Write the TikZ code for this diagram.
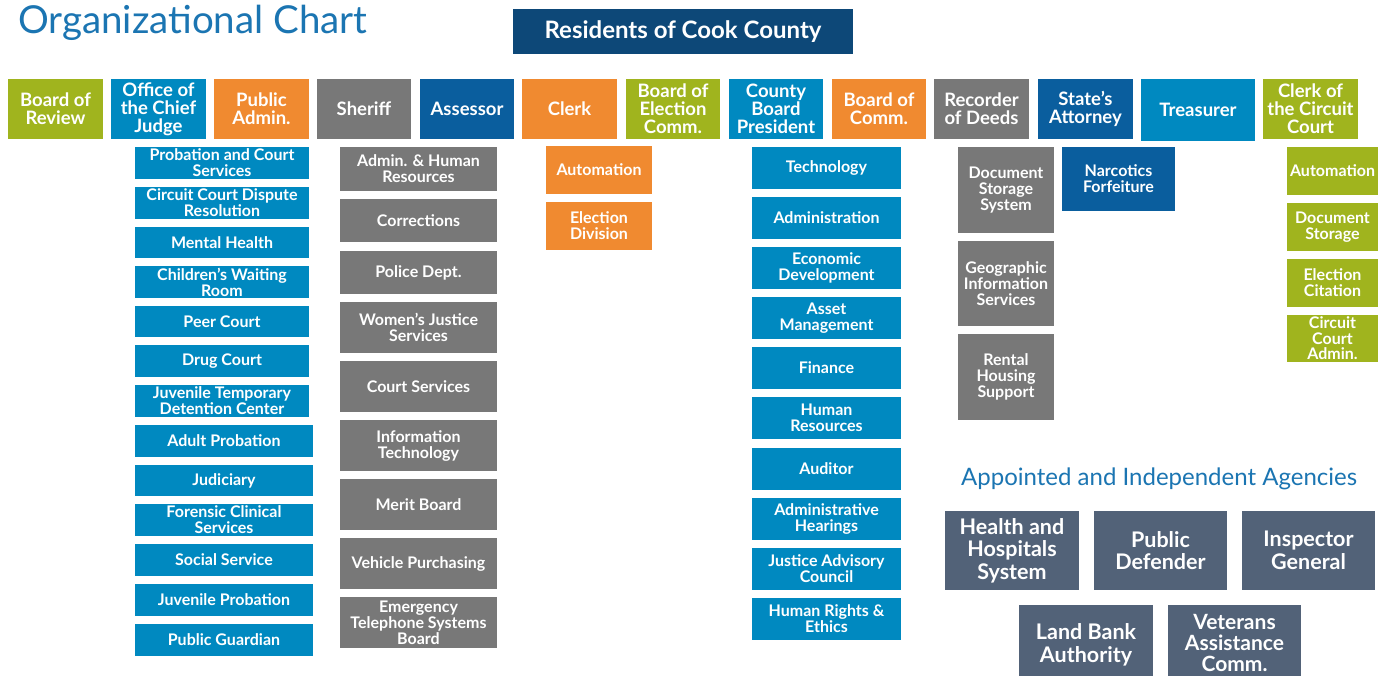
\documentclass[tikz,border=0pt]{standalone}
\usepackage{fontspec}
\setmainfont{Lato}
\usetikzlibrary{positioning}
\pgfdeclarelayer{bg}
\pgfsetlayers{bg,main}
\definecolor{cNavy}{HTML}{0D4878}
\definecolor{cOlive}{HTML}{A0B41E}
\definecolor{cBlue}{HTML}{0089C0}
\definecolor{cOrange}{HTML}{F08A30}
\definecolor{cGray}{HTML}{787878}
\definecolor{cDBlue}{HTML}{0A5E9E}
\definecolor{cSlate}{HTML}{526278}
\definecolor{cLine}{HTML}{78AAC8}
\definecolor{cTitle}{HTML}{1B75B2}
\tikzset{
  conn/.style={draw=cLine, line width=1.2pt},
  bx/.style={rectangle, inner sep=0pt, outer sep=0pt, text=white, align=center},
  lone/.style={bx, font=\bfseries\fontsize{18.5}{18}\selectfont},
  ltwo/.style={bx, font=\bfseries\fontsize{16}{16}\selectfont},
  agency/.style={bx, fill=cSlate, font=\bfseries\fontsize{21.5}{22.5}\selectfont},
  headtext/.style={inner sep=0pt, text=cTitle, anchor=base west},
}
\newcommand{\orgbox}[7]{\node[#6, minimum width=#4pt-#2pt, minimum height=#5pt-#3pt] (#1) at ({(#2+#4)/2},{(#3+#5)/2}) {#7};}
\begin{document}
\begin{tikzpicture}[x=1pt, y=-1pt]
\clip (0,0) rectangle (1384,676);
\fill[white] (0,0) rectangle (1384,676);

% titles
\node[headtext, font=\fontsize{38.5}{41}\selectfont] (title) at (18,34) {Organizational Chart};
\node[headtext, font=\fontsize{24}{26}\selectfont] (agtitle) at (961,485) {Appointed and Independent Agencies};

% top
\orgbox{res}{513}{9}{853}{54}{bx, fill=cNavy, font=\bfseries\fontsize{24}{26}\selectfont}{Residents of Cook County}

% level 1
\orgbox{bor}{8}{79}{103}{139}{lone, fill=cOlive}{Board of\\Review}
\orgbox{ocj}{111}{79}{206}{139}{lone, fill=cBlue}{Office of\\the Chief\\Judge}
\orgbox{pa}{214}{79}{309}{139}{lone, fill=cOrange}{Public\\Admin.}
\orgbox{sh}{317}{79}{411}{139}{lone, fill=cGray}{Sheriff}
\orgbox{as}{420}{79}{514}{139}{lone, fill=cDBlue}{Assessor}
\orgbox{cl}{522}{79}{617}{139}{lone, fill=cOrange}{Clerk}
\orgbox{bec}{626}{79}{720}{139}{lone, fill=cOlive}{Board of\\Election\\Comm.}
\orgbox{cbp}{729}{79}{823}{139}{lone, fill=cBlue}{County\\Board\\President}
\orgbox{boc}{832}{79}{926}{139}{lone, fill=cOrange}{Board of\\Comm.}
\orgbox{rd}{934}{79}{1029}{139}{lone, fill=cGray}{Recorder\\of Deeds}
\orgbox{sa}{1038}{79}{1133}{139}{lone, fill=cDBlue}{State’s\\Attorney}
\orgbox{tr}{1141}{79}{1255}{141}{lone, fill=cBlue}{Treasurer}
\orgbox{ccc}{1263}{79}{1358}{139}{lone, fill=cOlive}{Clerk of\\the Circuit\\Court}

% Office of the Chief Judge
\orgbox{j1}{135}{147}{309}{179}{ltwo, fill=cBlue}{Probation and Court\\Services}
\orgbox{j2}{135}{187}{309}{219}{ltwo, fill=cBlue}{Circuit Court Dispute\\Resolution}
\orgbox{j3}{135}{227}{309}{258}{ltwo, fill=cBlue}{Mental Health}
\orgbox{j4}{135}{266}{309}{298}{ltwo, fill=cBlue}{Children’s Waiting\\Room}
\orgbox{j5}{135}{306}{309}{337}{ltwo, fill=cBlue}{Peer Court}
\orgbox{j6}{135}{345}{309}{377}{ltwo, fill=cBlue}{Drug Court}
\orgbox{j7}{135}{385}{309}{417}{ltwo, fill=cBlue}{Juvenile Temporary\\Detention Center}
\orgbox{j8}{135}{425}{313}{457}{ltwo, fill=cBlue}{Adult Probation}
\orgbox{j9}{135}{465}{313}{496}{ltwo, fill=cBlue}{Judiciary}
\orgbox{j10}{135}{504}{313}{536}{ltwo, fill=cBlue}{Forensic Clinical\\Services}
\orgbox{j11}{135}{544}{313}{576}{ltwo, fill=cBlue}{Social Service}
\orgbox{j12}{135}{584}{313}{616}{ltwo, fill=cBlue}{Juvenile Probation}
\orgbox{j13}{135}{624}{313}{656}{ltwo, fill=cBlue}{Public Guardian}

% Sheriff
\orgbox{s1}{340}{147}{497}{191}{ltwo, fill=cGray}{Admin. \& Human\\Resources}
\orgbox{s2}{340}{199}{497}{242}{ltwo, fill=cGray}{Corrections}
\orgbox{s3}{340}{251}{497}{294}{ltwo, fill=cGray}{Police Dept.}
\orgbox{s4}{340}{302}{497}{353}{ltwo, fill=cGray}{Women’s Justice\\Services}
\orgbox{s5}{340}{361}{497}{412}{ltwo, fill=cGray}{Court Services}
\orgbox{s6}{340}{420}{497}{471}{ltwo, fill=cGray}{Information\\Technology}
\orgbox{s7}{340}{479}{497}{530}{ltwo, fill=cGray}{Merit Board}
\orgbox{s8}{340}{538}{497}{589}{ltwo, fill=cGray}{Vehicle Purchasing}
\orgbox{s9}{340}{597}{497}{648}{ltwo, fill=cGray}{Emergency\\Telephone Systems\\Board}

% Clerk
\orgbox{c1}{546}{146}{652}{194}{ltwo, fill=cOrange}{Automation}
\orgbox{c2}{546}{202}{652}{250}{ltwo, fill=cOrange}{Election\\Division}

% County Board President
\orgbox{p1}{752}{147}{901}{189}{ltwo, fill=cBlue}{Technology}
\orgbox{p2}{752}{197}{901}{239}{ltwo, fill=cBlue}{Administration}
\orgbox{p3}{752}{247}{901}{289}{ltwo, fill=cBlue}{Economic\\Development}
\orgbox{p4}{752}{297}{901}{339}{ltwo, fill=cBlue}{Asset\\Management}
\orgbox{p5}{752}{347}{901}{389}{ltwo, fill=cBlue}{Finance}
\orgbox{p6}{752}{397}{901}{439}{ltwo, fill=cBlue}{Human\\Resources}
\orgbox{p7}{752}{448}{901}{490}{ltwo, fill=cBlue}{Auditor}
\orgbox{p8}{752}{498}{901}{540}{ltwo, fill=cBlue}{Administrative\\Hearings}
\orgbox{p9}{752}{548}{901}{590}{ltwo, fill=cBlue}{Justice Advisory\\Council}
\orgbox{p10}{752}{598}{901}{640}{ltwo, fill=cBlue}{Human Rights \&\\Ethics}

% Recorder of Deeds
\orgbox{r1}{958}{147}{1054}{233}{ltwo, fill=cGray}{Document\\Storage\\System}
\orgbox{r2}{958}{241}{1054}{326}{ltwo, fill=cGray}{Geographic\\Information\\Services}
\orgbox{r3}{958}{334}{1054}{420}{ltwo, fill=cGray}{Rental\\Housing\\Support}

% State's Attorney
\orgbox{nf}{1062}{147}{1175}{211}{ltwo, fill=cDBlue}{Narcotics\\Forfeiture}

% Clerk of the Circuit Court
\orgbox{k1}{1287}{147}{1378}{195}{ltwo, fill=cOlive}{Automation}
\orgbox{k2}{1287}{203}{1378}{251}{ltwo, fill=cOlive}{Document\\Storage}
\orgbox{k3}{1287}{259}{1378}{307}{ltwo, fill=cOlive}{Election\\Citation}
\orgbox{k4}{1287}{315}{1378}{362}{ltwo, fill=cOlive, font=\bfseries\fontsize{16}{15.5}\selectfont}{Circuit\\Court\\Admin.}

% agencies
\orgbox{a1}{945}{511}{1079}{590}{agency}{Health and\\Hospitals\\System}
\orgbox{a2}{1094}{511}{1227}{590}{agency}{Public\\Defender}
\orgbox{a3}{1242}{511}{1375}{590}{agency}{Inspector\\General}
\orgbox{a4}{1019}{605}{1153}{685}{agency}{Land Bank\\Authority}
\orgbox{a5}{1168}{605}{1301}{680}{agency, font=\bfseries\fontsize{21}{21}\selectfont}{Veterans\\Assistance\\Comm.}

% connectors
\begin{pgfonlayer}{bg}
\draw[conn] (res.south) -- ++(0,21);
\draw[conn] (bor.north) -- ++(0,-4) -| (ccc.north);
\foreach \n in {ocj,pa,sh,as,cl,bec,cbp,boc,rd,sa,tr}
  \draw[conn] (\n.north) -- ++(0,-4);
\coordinate (ocjS) at ([xshift=9pt]ocj.south west);
\foreach \n in {j1,j2,j3,j4,j5,j6,j7,j8,j9,j10,j11,j12,j13}
  \draw[conn] (ocjS) |- (\n.west);
\coordinate (shS) at ([xshift=9pt]sh.south west);
\foreach \n in {s1,s2,s3,s4,s5,s6,s7,s8,s9}
  \draw[conn] (shS) |- (\n.west);
\coordinate (clS) at ([xshift=10pt]cl.south west);
\foreach \n in {c1,c2}
  \draw[conn] (clS) |- (\n.west);
\coordinate (cbpS) at ([xshift=9pt]cbp.south west);
\foreach \n in {p1,p2,p3,p4,p5,p6,p7,p8,p9,p10}
  \draw[conn] (cbpS) |- (\n.west);
\coordinate (rdS) at ([xshift=10pt]rd.south west);
\foreach \n in {r1,r2,r3}
  \draw[conn] (rdS) |- (\n.west);
\coordinate (saS) at ([xshift=9pt]sa.south west);
\draw[conn] (saS) |- (nf.west);
\coordinate (cccS) at ([xshift=10pt]ccc.south west);
\foreach \n in {k1,k2,k3,k4}
  \draw[conn] (cccS) |- (\n.west);
\end{pgfonlayer}
\end{tikzpicture}
\end{document}
